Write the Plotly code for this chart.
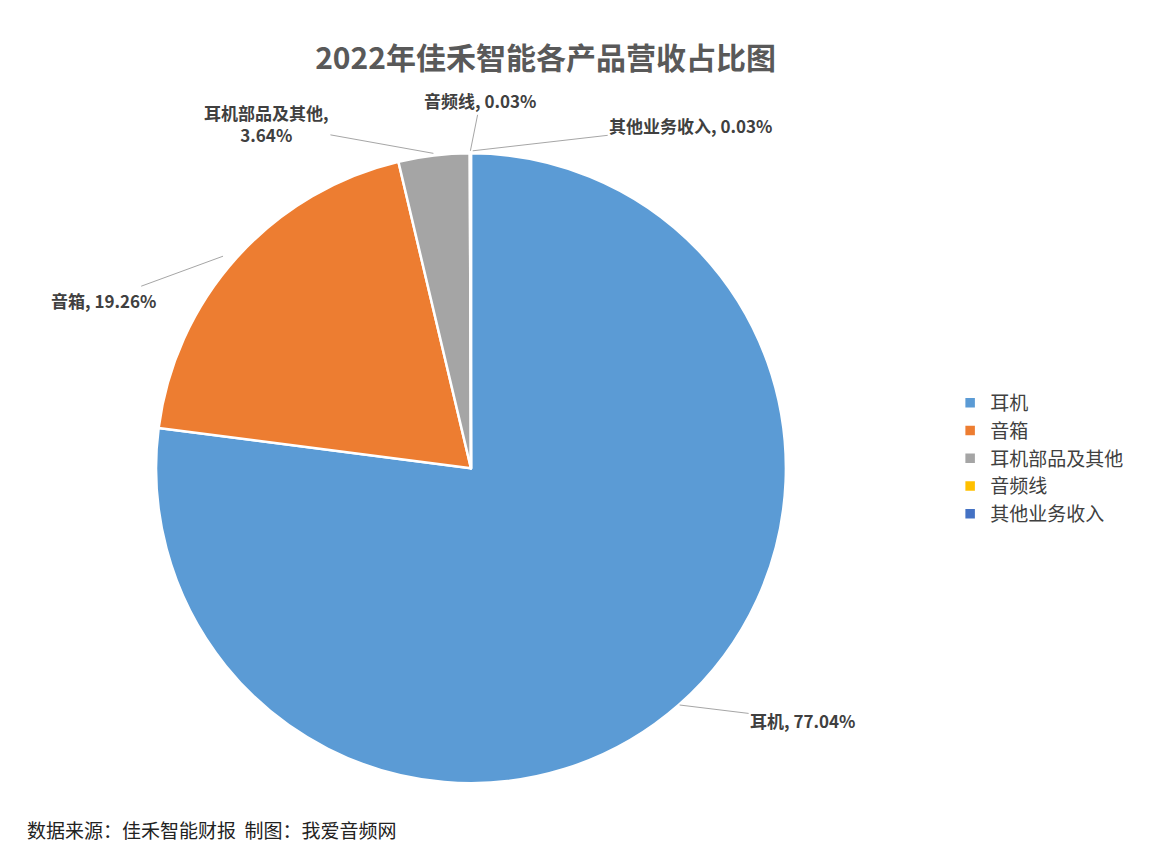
import plotly.graph_objects as go

# product revenue share, 2022
labels = ["耳机", "音箱", "耳机部品及其他", "音频线", "其他业务收入"]
shares = [77.04, 19.26, 3.64, 0.03, 0.03]
colors = ["#5B9BD5", "#ED7D31", "#A5A5A5", "#FFC000", "#4472C4"]
label_text = ["耳机, 77.04%", "音箱, 19.26%", "耳机部品及其他,<br>3.64%",
              "音频线, 0.03%", "其他业务收入, 0.03%"]

font = "Noto Sans CJK SC"

fig = go.Figure()
fig.add_trace(go.Pie(
    labels=labels,
    values=shares,
    sort=False,
    direction="clockwise",
    rotation=0,
    marker=dict(colors=colors, line=dict(color="white", width=2.5)),
    textinfo="none",
    domain=dict(x=[0.128, 0.673], y=[0.088, 0.829]),
    hoverinfo="label+percent",
))

# leader-line labels: (tip x, tip y, text offset x, text offset y)
spots = [(0.581, 0.180, 123, 15), (0.186, 0.708, -120, 44),
         (0.368, 0.829, -167, -30), (0.400, 0.832, 10, -50),
         (0.402, 0.832, 218, -25)]
notes = []
for txt, (x, y, ax, ay) in zip(label_text, spots):
    notes.append(dict(
        text="<b>" + txt + "</b>", x=x, y=y, xref="paper", yref="paper",
        ax=ax, ay=ay, showarrow=True, arrowhead=0, arrowwidth=1,
        arrowcolor="#A6A6A6", font=dict(family=font, size=17, color="#404040"),
    ))
notes.append(dict(
    text="数据来源：佳禾智能财报  制图：我爱音频网",
    x=0.015, y=0.033, xref="paper", yref="paper",
    xanchor="left", yanchor="middle", showarrow=False,
    font=dict(family=font, size=19, color="#222222"),
))

fig.update_layout(
    width=1156,
    height=850,
    paper_bgcolor="white",
    margin=dict(l=0, r=0, t=0, b=0),
    title=dict(
        text="<b>2022年佳禾智能各产品营收占比图</b>",
        x=0.465, xanchor="center", y=0.941, yanchor="middle",
        font=dict(family=font, size=30, color="#595959"),
    ),
    legend=dict(
        x=0.815, y=0.47, xanchor="left", yanchor="middle",
        font=dict(family=font, size=19, color="#404040"),
        tracegroupgap=0, itemwidth=30,
    ),
    annotations=notes,
)

fig.write_html("out.html")
